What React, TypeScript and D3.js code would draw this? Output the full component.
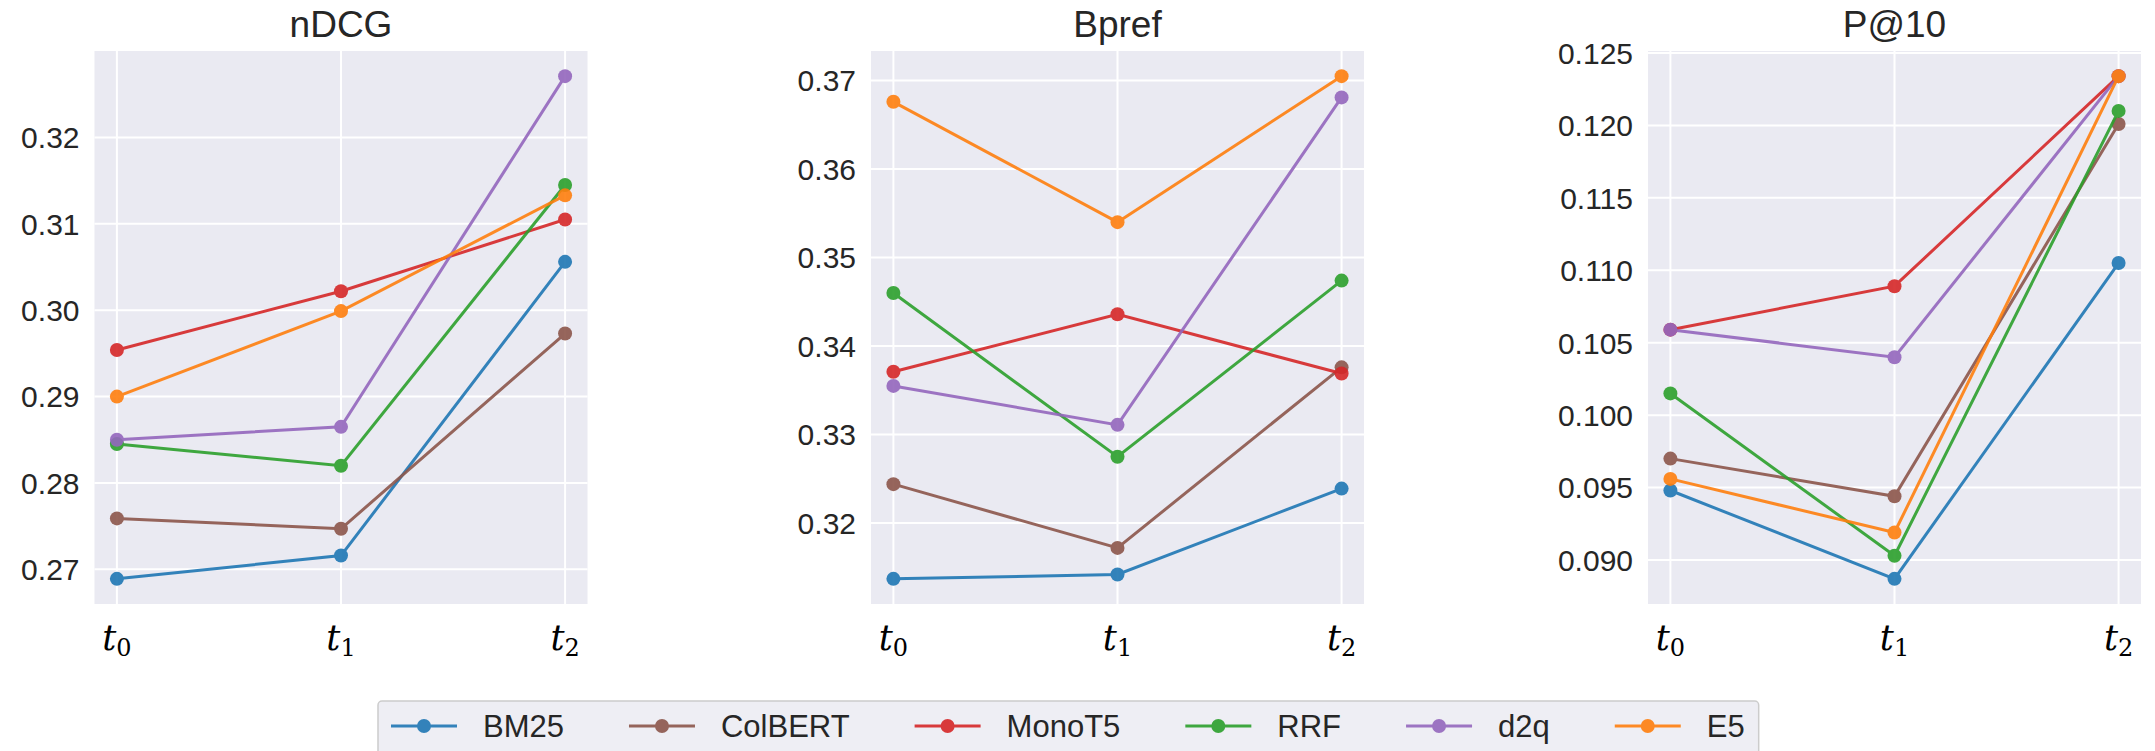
import React from "react";
import * as d3 from "d3";

const timeSteps = ["0", "1", "2"];
const methods = ["BM25", "ColBERT", "MonoT5", "RRF", "d2q", "E5"];
const methodColors = ["#1f77b4", "#8c564b", "#d62728", "#2ca02c", "#9467bd", "#ff7f0e"];
const metricTitles = ["nDCG", "Bpref", "P@10"];

// rows follow `methods`
const ndcgValues = [
  [0.2689, 0.2716, 0.3056],
  [0.2759, 0.2747, 0.2973],
  [0.2954, 0.3022, 0.3105],
  [0.2845, 0.282, 0.3145],
  [0.285, 0.2865, 0.3271],
  [0.29, 0.2999, 0.3133],
];
const bprefValues = [
  [0.3137, 0.3142, 0.3239],
  [0.3244, 0.3172, 0.3376],
  [0.3371, 0.3436, 0.3369],
  [0.346, 0.3275, 0.3474],
  [0.3355, 0.3311, 0.3681],
  [0.3676, 0.354, 0.3705],
];
const p10Values = [
  [0.0948, 0.0887, 0.1105],
  [0.097, 0.0944, 0.1201],
  [0.1059, 0.1089, 0.1234],
  [0.1015, 0.0903, 0.121],
  [0.1059, 0.104, 0.1234],
  [0.0956, 0.0919, 0.1234],
];
const ndcgTicks = [0.27, 0.28, 0.29, 0.3, 0.31, 0.32];
const bprefTicks = [0.32, 0.33, 0.34, 0.35, 0.36, 0.37];
const p10Ticks = [0.09, 0.095, 0.1, 0.105, 0.11, 0.115, 0.12, 0.125];
const tickFormats = [".2f", ".2f", ".3f"];

const W = 2155;
const H = 751;
const panelLefts = [94.5, 871, 1648];
const panelWidth = 493;
const plotTop = 51;
const plotBottom = 604;
const SANS = "'Liberation Sans', Arial, sans-serif";
const TEXT = "#262626";

function measure(text: string, font: string): number {
  const c = document.createElement("canvas");
  const ctx = c.getContext("2d");
  if (!ctx) return text.length * 17;
  ctx.font = font;
  return ctx.measureText(text).width;
}

function Panel({ idx, values, ticks }: { idx: number; values: number[][]; ticks: number[] }) {
  const left = panelLefts[idx];
  const right = left + panelWidth;
  const all = values.flat();
  const lo = d3.min(all)!;
  const hi = d3.max(all)!;
  const pad = (hi - lo) * 0.05;
  const y = d3.scaleLinear().domain([lo - pad, hi + pad]).range([plotBottom, plotTop]);
  const x = d3.scaleLinear().domain([-0.1, 2.1]).range([left, right]);
  const fmt = d3.format(tickFormats[idx]);
  const line = d3
    .line<number>()
    .x((_, i) => x(i))
    .y((v) => y(v));
  return (
    <g>
      <rect x={left} y={plotTop} width={panelWidth} height={plotBottom - plotTop} fill="#EAEAF2" />
      {ticks.map((t) => (
        <line key={"h" + t} x1={left} x2={right} y1={y(t)} y2={y(t)} stroke="#fff" strokeWidth={2} />
      ))}
      {timeSteps.map((_, i) => (
        <line key={"v" + i} x1={x(i)} x2={x(i)} y1={plotTop} y2={plotBottom} stroke="#fff" strokeWidth={2} />
      ))}
      {ticks.map((t) => (
        <text
          key={"l" + t}
          x={left - 15}
          y={y(t)}
          dy="0.36em"
          textAnchor="end"
          fontFamily={SANS}
          fontSize={30}
          fill={TEXT}
        >
          {fmt(t)}
        </text>
      ))}
      {timeSteps.map((s, i) => (
        <text key={"x" + i} x={x(i)} y={650} textAnchor="middle" fill="#000" fontFamily="'DejaVu Serif', serif">
          <tspan fontStyle="italic" fontSize={35}>t</tspan>
          <tspan fontSize={24} dy={6}>{s}</tspan>
        </text>
      ))}
      <text
        x={(left + right) / 2}
        y={37}
        textAnchor="middle"
        fontFamily={SANS}
        fontSize={37}
        fill={TEXT}
      >
        {metricTitles[idx]}
      </text>
      {values.map((row, m) => (
        <g key={"s" + m} opacity={0.9}>
          <path d={line(row) || ""} fill="none" stroke={methodColors[m]} strokeWidth={3} />
          {row.map((v, i) => (
            <circle key={i} cx={x(i)} cy={y(v)} r={7} fill={methodColors[m]} />
          ))}
        </g>
      ))}
    </g>
  );
}

function Legend() {
  const font = `31px ${SANS}`;
  const boxLeft = 378;
  const startPad = 13;
  const handle = 66;
  const textGap = 26;
  const colGap = 65;
  const cy = 726;
  let cursor = boxLeft + startPad;
  const items = methods.map((name, i) => {
    const hx = cursor;
    const tx = hx + handle + textGap;
    const tw = measure(name, font);
    cursor = tx + tw + colGap;
    return { name, i, hx, tx, tw };
  });
  const last = items[items.length - 1];
  const boxRight = last.tx + last.tw + 14;
  return (
    <g>
      <rect
        x={boxLeft}
        y={701}
        width={boxRight - boxLeft}
        height={64}
        rx={4}
        fill="#EEEEF4"
        stroke="#CCCCCC"
        strokeWidth={1.5}
      />
      {items.map((it) => (
        <g key={it.name} opacity={0.9}>
          <line x1={it.hx} x2={it.hx + handle} y1={cy} y2={cy} stroke={methodColors[it.i]} strokeWidth={3} />
          <circle cx={it.hx + handle / 2} cy={cy} r={7} fill={methodColors[it.i]} />
        </g>
      ))}
      {items.map((it) => (
        <text key={"t" + it.name} x={it.tx} y={cy} dy="0.36em" fontFamily={SANS} fontSize={31} fill={TEXT}>
          {it.name}
        </text>
      ))}
    </g>
  );
}

export default function App() {
  const datasets = [ndcgValues, bprefValues, p10Values];
  const tickSets = [ndcgTicks, bprefTicks, p10Ticks];
  return (
    <div style={{ position: "absolute", left: 0, top: 0, width: W, height: H, background: "#fff" }}>
      <svg width={W} height={H} viewBox={`0 0 ${W} ${H}`} style={{ display: "block" }}>
        <rect width={W} height={H} fill="#fff" />
        {datasets.map((vals, i) => (
          <Panel key={i} idx={i} values={vals} ticks={tickSets[i]} />
        ))}
        <Legend />
      </svg>
    </div>
  );
}
